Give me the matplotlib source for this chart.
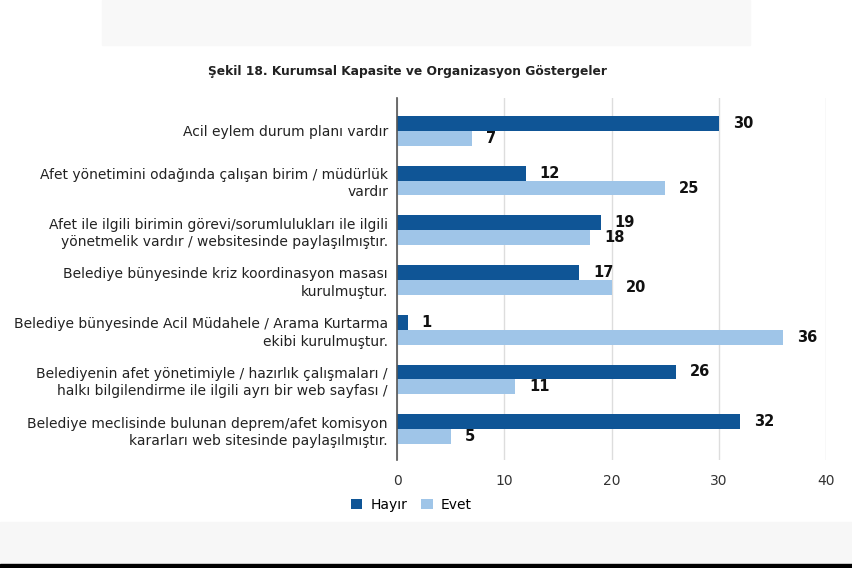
import matplotlib.pyplot as plt
import matplotlib.patches as mpatches
import numpy as np

# veriler
categories = [
    'Acil eylem durum planı vardır',
    'Afet yönetimini odağında çalışan birim / müdürlük\nvardır',
    'Afet ile ilgili birimin görevi/sorumlulukları ile ilgili\nyönetmelik vardır / websitesinde paylaşılmıştır.',
    'Belediye bünyesinde kriz koordinasyon masası\nkurulmuştur.',
    'Belediye bünyesinde Acil Müdahele / Arama Kurtarma\nekibi kurulmuştur.',
    'Belediyenin afet yönetimiyle / hazırlık çalışmaları /\nhalkı bilgilendirme ile ilgili ayrı bir web sayfası /',
    'Belediye meclisinde bulunan deprem/afet komisyon\nkararları web sitesinde paylaşılmıştır.',
]
hayir = [30, 12, 19, 17, 1, 26, 32]
evet = [7, 25, 18, 20, 36, 11, 5]
series_names = ['Hayır', 'Evet']
x_ticks = [0, 10, 20, 30, 40]

dark_blue = '#0f5596'
light_blue = '#9fc5e8'

fig = plt.figure(figsize=(8.52, 5.68), dpi=100, facecolor='white')

# arka plandaki gri bantlar (ekran görüntüsü)
fig.patches.append(mpatches.Rectangle((0.12, 1 - 45/568), 0.76, 45/568, transform=fig.transFigure,
                                      color='#f8f8f8', zorder=0))
fig.patches.append(mpatches.Rectangle((0, 4/568), 1, 42/568, transform=fig.transFigure,
                                      color='#f7f7f7', zorder=0))
fig.patches.append(mpatches.Rectangle((0, 0), 1, 4/568, transform=fig.transFigure,
                                      color='black', zorder=0))

ax = fig.add_axes([397/852, 1 - 460/568, 429/852, 362/568])
ax.set_facecolor('none')

y = np.arange(len(categories))
h = 0.3
b1 = ax.barh(y - h/2, hayir, height=h, color=dark_blue, label=series_names[0], zorder=3)
b2 = ax.barh(y + h/2, evet, height=h, color=light_blue, label=series_names[1], zorder=3)

for bars, vals in ((b1, hayir), (b2, evet)):
    for bar, v in zip(bars, vals):
        ax.text(bar.get_width() + 1.3, bar.get_y() + bar.get_height()/2, str(v),
                ha='left', va='center', fontsize=10.5, fontweight='bold', color='#111111')

ax.set_xlim(0, 40)
ax.set_ylim(len(categories) - 1 + 0.62, -0.66)
ax.set_xticks(x_ticks)
ax.set_yticks(y)
ax.set_yticklabels(categories, fontsize=10, color='#222222', ha='right', linespacing=1.3)
ax.tick_params(axis='y', length=0, pad=6.5)
ax.tick_params(axis='x', length=0, pad=10, labelsize=10, colors='#333333')

ax.xaxis.grid(True, color='#dddddd', linewidth=1)
ax.set_axisbelow(True)
for s in ['top', 'right', 'bottom']:
    ax.spines[s].set_visible(False)
ax.spines['left'].set_color('#555555')
ax.spines['left'].set_linewidth(1.2)
ax.spines['left'].set_zorder(4)

fig.text(0.478, 1 - 71/568, 'Şekil 18. Kurumsal Kapasite ve Organizasyon Göstergeler',
         ha='center', va='center', fontsize=8.8, fontweight='bold', color='#222222')

fig.legend(handles=[b1, b2], labels=series_names, loc='center', bbox_to_anchor=(0.483, 1 - 505/568),
           ncol=2, frameon=False, fontsize=10, handlelength=0.8, handleheight=0.8,
           handletextpad=0.6, columnspacing=1.0)

plt.savefig('out.png', dpi=100, facecolor='white')
plt.close()
